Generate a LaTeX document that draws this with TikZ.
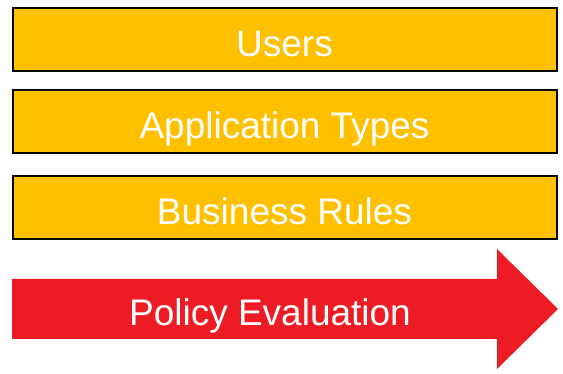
\documentclass[tikz,border=0pt]{standalone}
\usepackage{fontspec}
\setmainfont{Liberation Sans}
\definecolor{boxyellow}{HTML}{FFC000}
\definecolor{arrowred}{HTML}{ED1C24}
\begin{document}
\begin{tikzpicture}[x=1pt,y=1pt,
  layerbox/.style={draw=black,line width=2pt,fill=boxyellow,minimum width=544pt,minimum height=63pt,inner sep=0pt,text=white,text height=34pt,text depth=0pt,font=\fontsize{37}{40}\selectfont},
  arrowtext/.style={text=white,font=\fontsize{37}{40}\selectfont,inner sep=0pt,text height=34pt,text depth=0pt}]
\useasboundingbox (0,0) rectangle (563,374);
\node[layerbox] (users) at (284.5,334.5) {Users};
\node[layerbox] (apps) at (284.5,252.5) {Application Types};
\node[layerbox] (rules) at (284.5,166) {Business Rules};
\fill[arrowred] (12,95) -- (497,95) -- (497,125) -- (558,65) -- (497,5) -- (497,35) -- (12,35) -- cycle;
\node[arrowtext] (policy) at (270,65) {Policy Evaluation};
\end{tikzpicture}
\end{document}
